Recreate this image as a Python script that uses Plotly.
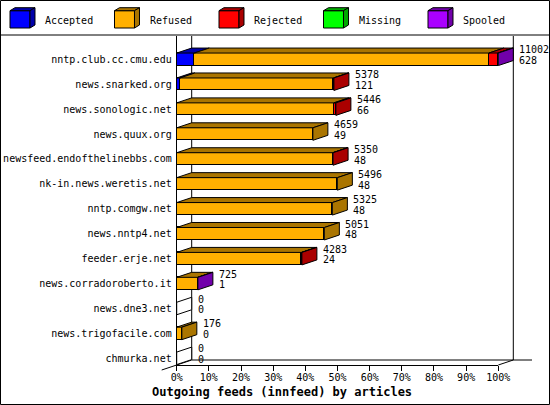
import plotly.graph_objects as go

W, H = 550, 405

feeds = ['nntp.club.cc.cmu.edu', 'news.snarked.org', 'news.sonologic.net', 'news.quux.org',
         'newsfeed.endofthelinebbs.com', 'nk-in.news.weretis.net', 'nntp.comgw.net', 'news.nntp4.net',
         'feeder.erje.net', 'news.corradoroberto.it', 'news.dne3.net', 'news.trigofacile.com', 'chmurka.net']
accepted = [600, 110, 0, 0, 0, 0, 0, 0, 0, 0, 0, 0, 0]
refused = [10080, 5253, 5376, 4659, 5335, 5496, 5325, 5051, 4268, 715, 0, 176, 0]
rejected = [300, 15, 70, 0, 15, 0, 0, 0, 15, 0, 0, 0, 0]
missing = [0, 0, 0, 0, 0, 0, 0, 0, 0, 0, 0, 0, 0]
spooled = [22, 0, 0, 0, 0, 0, 0, 0, 0, 10, 0, 0, 0]
offered = [11002, 5378, 5446, 4659, 5350, 5496, 5325, 5051, 4283, 725, 0, 176, 0]
second_line = [628, 121, 66, 49, 48, 48, 48, 48, 24, 1, 0, 0, 0]
pct_ticks = [0, 10, 20, 30, 40, 50, 60, 70, 80, 90, 100]
pct_labels = ['0%', '10%', '20%', '30%', '40%', '50%', '60%', '70%', '80%', '90%', '100%']

series = [
    ('Accepted', accepted, (0, 0, 255)),
    ('Refused', refused, (255, 176, 0)),
    ('Rejected', rejected, (255, 0, 0)),
    ('Missing', missing, (0, 255, 0)),
    ('Spooled', spooled, (170, 0, 255)),
]

FONT = 'DejaVu Sans Mono'

# pixel geometry of the plot
X0PX, X100PX = 176.7, 498.3
PPX = (X100PX - X0PX) / 100.0
ROW0PX, ROWSTEP = 59.3, 24.92
TOPPX, FLOORPX = 36.0, 365.0
DX = 15 / PPX
DY = 5 / ROWSTEP
BAR_H = 12.5 / ROWSTEP


def rgb(c):
    return 'rgb(%d,%d,%d)' % c


def dark(c):
    return rgb(tuple(int(v * 2 / 3) for v in c))


def row_of(px):
    return (px - ROW0PX) / ROWSTEP


def pap_y(px):
    return (H - px) / H


scale = 100.0 / max(sum(s[1][i] for s in series) for i in range(len(feeds)))
rows = list(range(len(feeds)))

fig = go.Figure()

# front faces
for name, vals, col in series:
    fig.add_trace(go.Bar(
        x=[v * scale if v > 0 else None for v in vals], y=rows, orientation='h', width=BAR_H,
        marker=dict(color=rgb(col), line=dict(color='black', width=1)),
        name=name, showlegend=False, hoverinfo='skip'))


def poly(xs, ys, fill):
    fig.add_trace(go.Scatter(
        x=xs + [xs[0]], y=ys + [ys[0]], mode='lines', fill='toself', fillcolor=fill,
        line=dict(color='black', width=1), showlegend=False, hoverinfo='skip'))


# top and side faces
for r in rows:
    t = r - BAR_H / 2
    b = r + BAR_H / 2
    pos = 0.0
    last = None
    for name, vals, col in series:
        w = vals[r] * scale
        if w > 0:
            poly([pos, pos + w, pos + w + DX, pos + DX], [t, t, t - DY, t - DY], dark(col))
            pos += w
            last = col
    poly([pos, pos, pos + DX, pos + DX], [t, b, b - DY, t - DY], dark(last) if last else 'white')
    fig.add_annotation(x=pos + DX, y=r, text=str(offered[r]), xanchor='left', yanchor='middle',
                       xshift=4, yshift=9.5, showarrow=False, font=dict(family=FONT, size=10, color='black'))
    fig.add_annotation(x=pos + DX, y=r, text=str(second_line[r]), xanchor='left', yanchor='middle',
                       xshift=4, yshift=-1.2, showarrow=False, font=dict(family=FONT, size=10, color='black'))

# walls and floor
ftop = row_of(TOPPX)
ffront = row_of(FLOORPX)
fback = ffront - DY
line = dict(color='black', width=1)
wall = [
    (DX, ftop, DX, fback),
    (100 + DX, ftop, 100 + DX, fback),
    (DX, fback, (532 - X0PX) / PPX, fback),
    (-DX, ffront + DY, DX, fback),
    (100, ffront, 100 + DX, fback),
]
for x0, y0, x1, y1 in wall:
    fig.add_shape(type='line', x0=x0, y0=y0, x1=x1, y1=y1, xref='x', yref='y', line=line, layer='below')

# axis carrying tick labels
fig.add_trace(go.Scatter(x=[0, 100], y=[0, 0], xaxis='x2', yaxis='y2', mode='markers',
                         marker=dict(opacity=0), showlegend=False, hoverinfo='skip'))

# legend
for i, (name, vals, col) in enumerate(series):
    lx = 10 + 104.5 * i
    fx0, fx1, fy0, fy1 = lx, lx + 20, 10.7, 28
    d, dd = 5, 3
    shapes = [
        ([fx0, fx1, fx1, fx0], [fy0, fy0, fy1, fy1], rgb(col)),
        ([fx0, fx1, fx1 + d, fx0 + d], [fy0, fy0, fy0 - dd, fy0 - dd], dark(col)),
        ([fx1, fx1, fx1 + d, fx1 + d], [fy0, fy1, fy1 - dd, fy0 - dd], dark(col)),
    ]
    for xs, ys, fc in shapes:
        path = 'M ' + ' L '.join('%f,%f' % (x / W, pap_y(y)) for x, y in zip(xs, ys)) + ' Z'
        fig.add_shape(type='path', path=path, xref='paper', yref='paper', fillcolor=fc, line=line)
    fig.add_annotation(x=(lx + 33) / W, y=pap_y(20), xref='paper', yref='paper', text=name,
                       xanchor='left', yanchor='middle', showarrow=False,
                       font=dict(family=FONT, size=10, color='black'))

fig.add_shape(type='line', x0=0, x1=1, y0=pap_y(35), y1=pap_y(35), xref='paper', yref='paper', line=line)
fig.add_shape(type='rect', x0=0.5 / W, x1=(W - 0.5) / W, y0=pap_y(H - 0.5), y1=pap_y(0.5),
              xref='paper', yref='paper', line=line)

fig.add_annotation(x=282 / W, y=pap_y(392), xref='paper', yref='paper',
                   text='<b>Outgoing feeds (innfeed) by articles</b>', showarrow=False,
                   xanchor='center', yanchor='middle', font=dict(family=FONT, size=12, color='black'))

fig.update_layout(
    width=W, height=H, autosize=False,
    margin=dict(l=0, r=0, t=0, b=0, pad=0),
    paper_bgcolor='white', plot_bgcolor='rgba(0,0,0,0)',
    barmode='stack', bargap=0,
    showlegend=False,
    xaxis=dict(domain=[0, 1], range=[-X0PX / PPX, (W - X0PX) / PPX], visible=False, fixedrange=True),
    yaxis=dict(domain=[0, 1], range=[row_of(H), row_of(0)], visible=False, fixedrange=True),
    xaxis2=dict(domain=[X0PX / W, X100PX / W], range=[0, 100], anchor='y2', showline=True,
                linecolor='black', linewidth=1, ticks='outside', ticklen=5, tickcolor='black',
                ticklabelstandoff=-2,
                tickvals=pct_ticks, ticktext=pct_labels, showgrid=False, zeroline=False,
                tickfont=dict(family=FONT, size=10, color='black'), automargin=False, fixedrange=True),
    yaxis2=dict(domain=[pap_y(FLOORPX), pap_y(TOPPX)], range=[row_of(FLOORPX), row_of(TOPPX)],
                anchor='x2', showline=True, linecolor='black', linewidth=1, ticks='',
                ticklabelstandoff=2,
                tickvals=rows, ticktext=feeds, showgrid=False, zeroline=False,
                tickfont=dict(family=FONT, size=10, color='black'), automargin=False, fixedrange=True),
)

fig.write_html('out.html', config={'displayModeBar': False},
               post_script="document.body.style.margin='0';document.body.style.overflow='hidden';")
